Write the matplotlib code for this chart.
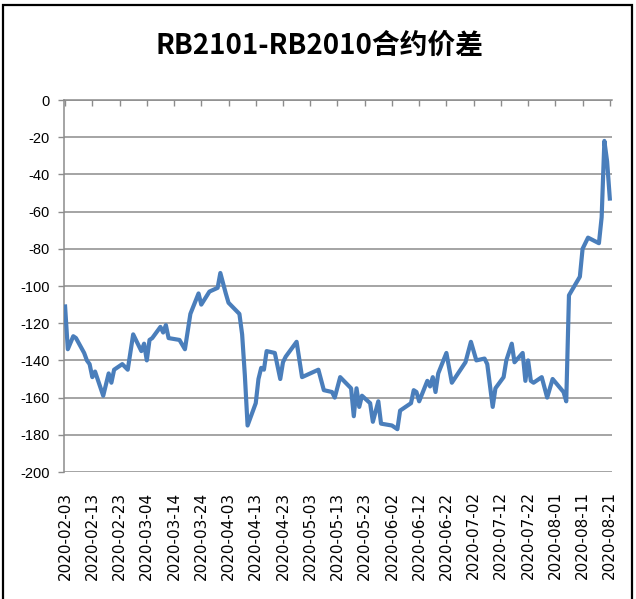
import pandas as pd
import numpy as np
import matplotlib
matplotlib.use("Agg")
import matplotlib.pyplot as plt
import matplotlib.dates as mdates
from matplotlib.patches import Rectangle

# spread readings (trading days)
dates = ["2020-02-03", "2020-02-04", "2020-02-06", "2020-02-07", "2020-02-10", "2020-02-11",
         "2020-02-12", "2020-02-13", "2020-02-14", "2020-02-17", "2020-02-19", "2020-02-20",
         "2020-02-21", "2020-02-24", "2020-02-26", "2020-02-28", "2020-03-02", "2020-03-03",
         "2020-03-04", "2020-03-05", "2020-03-06", "2020-03-09", "2020-03-10", "2020-03-11",
         "2020-03-12", "2020-03-16", "2020-03-18", "2020-03-20", "2020-03-23", "2020-03-24",
         "2020-03-27", "2020-03-30", "2020-03-31", "2020-04-02", "2020-04-03", "2020-04-07",
         "2020-04-08", "2020-04-09", "2020-04-10", "2020-04-13", "2020-04-14", "2020-04-15",
         "2020-04-16", "2020-04-17", "2020-04-20", "2020-04-22", "2020-04-23", "2020-04-24",
         "2020-04-28", "2020-04-30", "2020-05-06", "2020-05-08", "2020-05-11", "2020-05-12",
         "2020-05-14", "2020-05-18", "2020-05-19", "2020-05-20", "2020-05-21", "2020-05-22",
         "2020-05-25", "2020-05-26", "2020-05-28", "2020-05-29", "2020-06-02", "2020-06-04",
         "2020-06-05", "2020-06-09", "2020-06-10", "2020-06-11", "2020-06-12", "2020-06-15",
         "2020-06-16", "2020-06-17", "2020-06-18", "2020-06-19", "2020-06-22", "2020-06-24",
         "2020-06-29", "2020-07-01", "2020-07-03", "2020-07-06", "2020-07-07", "2020-07-09",
         "2020-07-10", "2020-07-13", "2020-07-14", "2020-07-16", "2020-07-17", "2020-07-20",
         "2020-07-21", "2020-07-22", "2020-07-23", "2020-07-24", "2020-07-27", "2020-07-29",
         "2020-07-31", "2020-08-04", "2020-08-05", "2020-08-06", "2020-08-10", "2020-08-11",
         "2020-08-13", "2020-08-17", "2020-08-18", "2020-08-19", "2020-08-20", "2020-08-21"]
spread = [-111, -134, -127, -128, -136, -140,
          -142, -149, -146, -159, -147, -152,
          -145, -142, -145, -126, -135, -131,
          -140, -129, -128, -122, -125, -121,
          -128, -129, -134, -115, -104, -110,
          -103, -101, -93, -104, -109, -115,
          -126, -148, -175, -163, -150, -144,
          -145, -135, -136, -150, -141, -138,
          -130, -149, -145, -156, -157, -160,
          -149, -155, -170, -155, -165, -159,
          -163, -173, -162, -174, -175, -177,
          -167, -163, -156, -157, -162, -151,
          -154, -149, -157, -147, -136, -152,
          -141, -130, -140, -139, -142, -165,
          -155, -149, -140, -131, -141, -136,
          -151, -140, -151, -152, -149, -160,
          -150, -157, -162, -105, -95, -80,
          -74, -77, -63, -22, -33, -53]

title = "RB2101-RB2010合约价差"
tick_dates = pd.date_range("2020-02-03", "2020-08-21", freq="10D")
yticks = list(range(-200, 1, 20))

x = pd.to_datetime(dates)

fig = plt.figure(figsize=(6.36, 5.99), dpi=100)
ax = fig.add_axes([64 / 636, 1 - 472 / 599, 548 / 636, 372 / 599])

ax.plot(x, spread, color="#4A7EBB", lw=3.0, solid_joinstyle="round", zorder=3)

x0 = pd.Timestamp("2020-02-03")
ax.set_xlim(mdates.date2num(x0) - 0.4, mdates.date2num(x0) + 200.8)
ax.set_ylim(-200, 0)

ax.set_yticks(yticks)
ax.set_yticklabels([str(v) for v in yticks], family="Liberation Sans", fontsize=10.5)
ax.set_xticks(tick_dates)
ax.set_xticklabels([d.strftime("%Y-%m-%d") for d in tick_dates], rotation=90,
                   fontsize=11, family="DejaVu Sans")

grey = "#8C8C8C"
ax.grid(axis="y", color=grey, lw=1.1, zorder=1)
for s in ["right", "bottom"]:
    ax.spines[s].set_visible(False)
ax.spines["left"].set_color(grey)
ax.spines["top"].set_color(grey)
ax.spines["left"].set_linewidth(1.1)
ax.spines["top"].set_linewidth(1.1)

ax.tick_params(axis="y", direction="out", length=4, width=1, color=grey, pad=6)
ax.tick_params(axis="x", top=True, bottom=False, labeltop=False, labelbottom=True,
               direction="in", length=4, width=1, color=grey, pad=14)

fig.text(0.503, 1 - 46 / 599, title, ha="center", va="center", fontsize=20,
         fontweight="bold", family=["Noto Sans CJK SC", "DejaVu Sans"])

fig.patches.append(Rectangle((3 / 636, -10 / 599), 629 / 636, 604 / 599, fill=False,
                             edgecolor="black", lw=1.6, transform=fig.transFigure))

plt.savefig("out.png", dpi=100)
